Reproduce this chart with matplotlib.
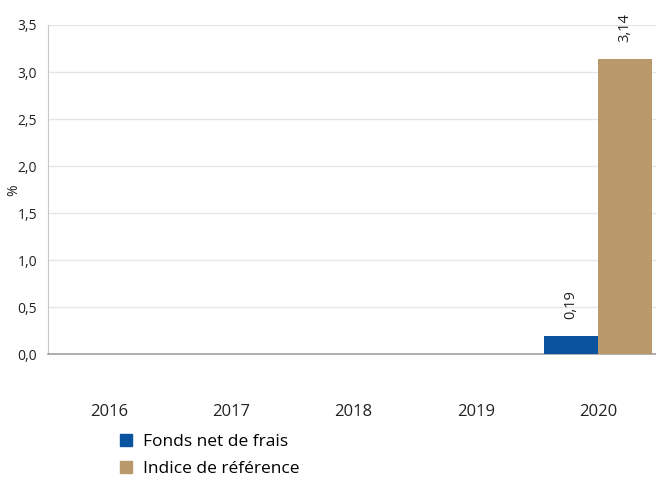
import numpy as np
import matplotlib
matplotlib.use("Agg")
import matplotlib.pyplot as plt
from matplotlib.patches import Patch

years = ["2016", "2017", "2018", "2019", "2020"]
fonds = [np.nan, np.nan, np.nan, np.nan, 0.19]
indice = [np.nan, np.nan, np.nan, np.nan, 3.14]
series_names = ["Fonds net de frais", "Indice de référence"]
colors = ["#0A539E", "#B9996B"]

plt.rcParams['font.family'] = ['Open Sans', 'DejaVu Sans']

fig = plt.figure(figsize=(6.56, 4.78), dpi=100)
ax = fig.add_axes([0.0732, 0.2594, 0.9314, 0.6883])

x = np.arange(len(years))
w = 0.443
b1 = ax.bar(x - w / 2, fonds, w, color=colors[0], zorder=3)
b2 = ax.bar(x + w / 2, indice, w, color=colors[1], zorder=3)

def fmt(v):
    return f"{v:.2f}".replace(".", ",")

for bars, vals in [(b1, fonds), (b2, indice)]:
    for rect, v in zip(bars, vals):
        if np.isnan(v):
            continue
        ax.annotate(fmt(v), (rect.get_x() + rect.get_width() / 2, v),
                    xytext=(0, 12), textcoords="offset points",
                    rotation=90, ha="center", va="bottom",
                    fontsize=10.5, color="#222222")

ax.set_xlim(-0.5, 4.5)
ax.set_ylim(0, 3.5)
ax.set_yticks(np.arange(0, 3.51, 0.5))
ax.set_yticklabels([f"{t:.1f}".replace(".", ",") for t in np.arange(0, 3.51, 0.5)])
ax.set_xticks(x)
ax.set_xticklabels(years)
ax.tick_params(axis="x", length=0, pad=36, labelsize=12, colors="#222222")
ax.tick_params(axis="y", length=0, pad=8, labelsize=10, colors="#222222")
ax.grid(axis="y", color="#E6E6E6", linewidth=1, zorder=0)
for s in ["top", "right"]:
    ax.spines[s].set_visible(False)
ax.spines["left"].set_color("#C8C8C8")
ax.spines["bottom"].set_color("#A0A0A0")
ax.spines["bottom"].set_linewidth(1.2)

fig.text(0.021, 0.603, "%", rotation=90, ha="center", va="center",
         fontsize=10, color="#222222")

handles = [Patch(color=c, label=n) for c, n in zip(colors, series_names)]
fig.legend(handles=handles, loc="upper left", bbox_to_anchor=(0.183, 0.092),
           bbox_transform=fig.transFigure,
           frameon=False, fontsize=12.5, handlelength=0.7, handleheight=0.7,
           handletextpad=0.6, labelspacing=0.6, borderaxespad=0, borderpad=0)

fig.savefig("out.png", dpi=100)
